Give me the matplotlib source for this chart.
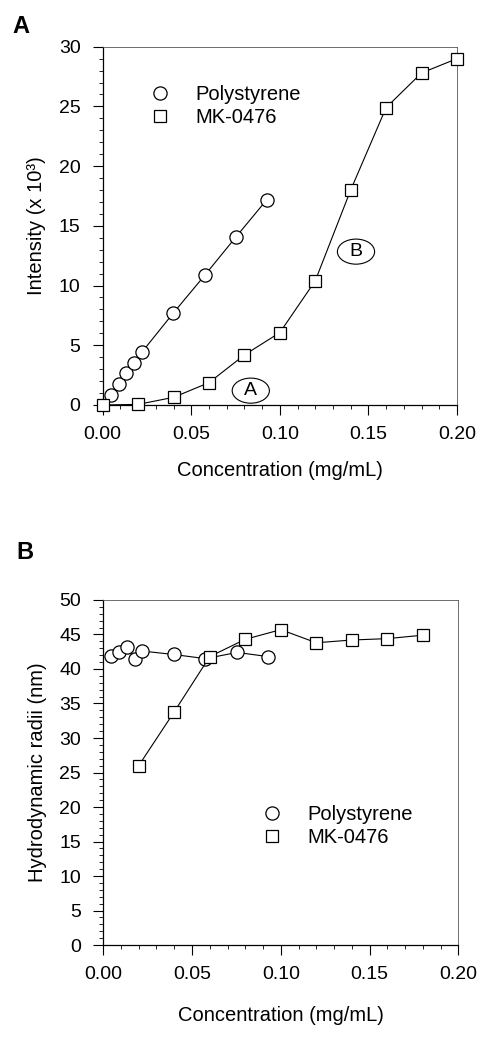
import matplotlib
matplotlib.use("Agg")
import matplotlib.pyplot as plt
from matplotlib.patches import Ellipse
from matplotlib.ticker import MultipleLocator, FormatStrFormatter

plt.rcParams['font.family'] = ['Liberation Sans', 'DejaVu Sans']
plt.rcParams['font.size'] = 14

# panel A: scattered light intensity vs concentration
ps_conc = [0.0045, 0.009, 0.0133, 0.0177, 0.022, 0.0397, 0.0576, 0.0754, 0.0927]
ps_intensity = [0.84, 1.73, 2.7, 3.55, 4.4, 7.67, 10.86, 14.1, 17.2]
mk_conc = [0.0, 0.02, 0.04, 0.06, 0.08, 0.10, 0.12, 0.14, 0.16, 0.18, 0.20]
mk_intensity = [0.0, 0.05, 0.64, 1.87, 4.19, 6.06, 10.4, 18.0, 24.9, 27.8, 29.0]

# panel B: hydrodynamic radii vs concentration
ps_radii = [41.9, 42.5, 43.2, 41.4, 42.6, 42.1, 41.5, 42.4, 41.8]
mk_conc_b = [0.02, 0.04, 0.06, 0.08, 0.10, 0.12, 0.14, 0.16, 0.18]
mk_radii = [26.0, 33.8, 41.8, 44.3, 45.7, 43.8, 44.2, 44.4, 44.9]

# region labels drawn in panel A
region_names = ['A', 'B']
region_x = [0.0836, 0.143]
region_y = [1.2, 12.84]

fig = plt.figure(figsize=(4.8, 10.4), dpi=100)
axA = fig.add_axes([0.214, 0.6106, 0.738, 0.3445])
axB = fig.add_axes([0.215, 0.0913, 0.740, 0.3318])

mstyle = dict(color='black', lw=0.8, mfc='white', mec='black', mew=0.9, clip_on=False, zorder=3)


def style_axis(ax, ymax, xpad):
    ax.set_xlim(0, 0.20)
    ax.set_ylim(0, ymax)
    ax.xaxis.set_major_locator(MultipleLocator(0.05))
    ax.xaxis.set_minor_locator(MultipleLocator(0.01))
    ax.xaxis.set_major_formatter(FormatStrFormatter('%.2f'))
    ax.yaxis.set_major_locator(MultipleLocator(5))
    ax.yaxis.set_minor_locator(MultipleLocator(1))
    ax.tick_params(which='major', direction='out', length=7, width=0.8, labelsize=14)
    ax.tick_params(which='minor', direction='out', length=3, width=0.6)
    ax.tick_params(axis='x', which='major', pad=8)
    ax.tick_params(axis='y', which='major', pad=9)
    for side in ['top', 'right']:
        ax.spines[side].set_linewidth(0.6)
        ax.spines[side].set_color('#555555')
    for side in ['left', 'bottom']:
        ax.spines[side].set_linewidth(0.9)
    ax.set_xlabel('Concentration (mg/mL)', fontsize=14.5, labelpad=xpad)


def marker_legend(ax, anchor):
    leg = ax.legend(loc='upper left', bbox_to_anchor=anchor, frameon=False, fontsize=14.5,
                    handlelength=1.0, handletextpad=1.25, labelspacing=0.2,
                    borderpad=0, borderaxespad=0)
    for h in leg.legend_handles:
        h.set_linestyle('none')
    return leg


axA.plot(ps_conc, ps_intensity, marker='o', ms=9.5, label='Polystyrene', **mstyle)
axA.plot(mk_conc, mk_intensity, marker='s', ms=9, label='MK-0476', **mstyle)
style_axis(axA, 30, 13)
axA.set_ylabel('Intensity (x 10³)', fontsize=14.5, labelpad=9)
marker_legend(axA, (0.1335, 0.893))
for name, x, y in zip(region_names, region_x, region_y):
    axA.add_patch(Ellipse((x, y), 0.021, 2.1, fc='white', ec='black', lw=0.8, zorder=4))
    axA.text(x, y, name, ha='center', va='center', fontsize=14, zorder=5)

axB.plot(ps_conc, ps_radii, marker='o', ms=9.5, label='Polystyrene', **mstyle)
axB.plot(mk_conc_b, mk_radii, marker='s', ms=9, label='MK-0476', **mstyle)
style_axis(axB, 50, 17)
axB.set_ylabel('Hydrodynamic radii (nm)', fontsize=14.5, labelpad=9)
marker_legend(axB, (0.446, 0.406))

fig.text(0.025, 0.9745, 'A', fontsize=17, fontweight='black', ha='left', va='center')
fig.text(0.035, 0.469, 'B', fontsize=17, fontweight='black', ha='left', va='center')

fig.savefig('out.png', dpi=100)
